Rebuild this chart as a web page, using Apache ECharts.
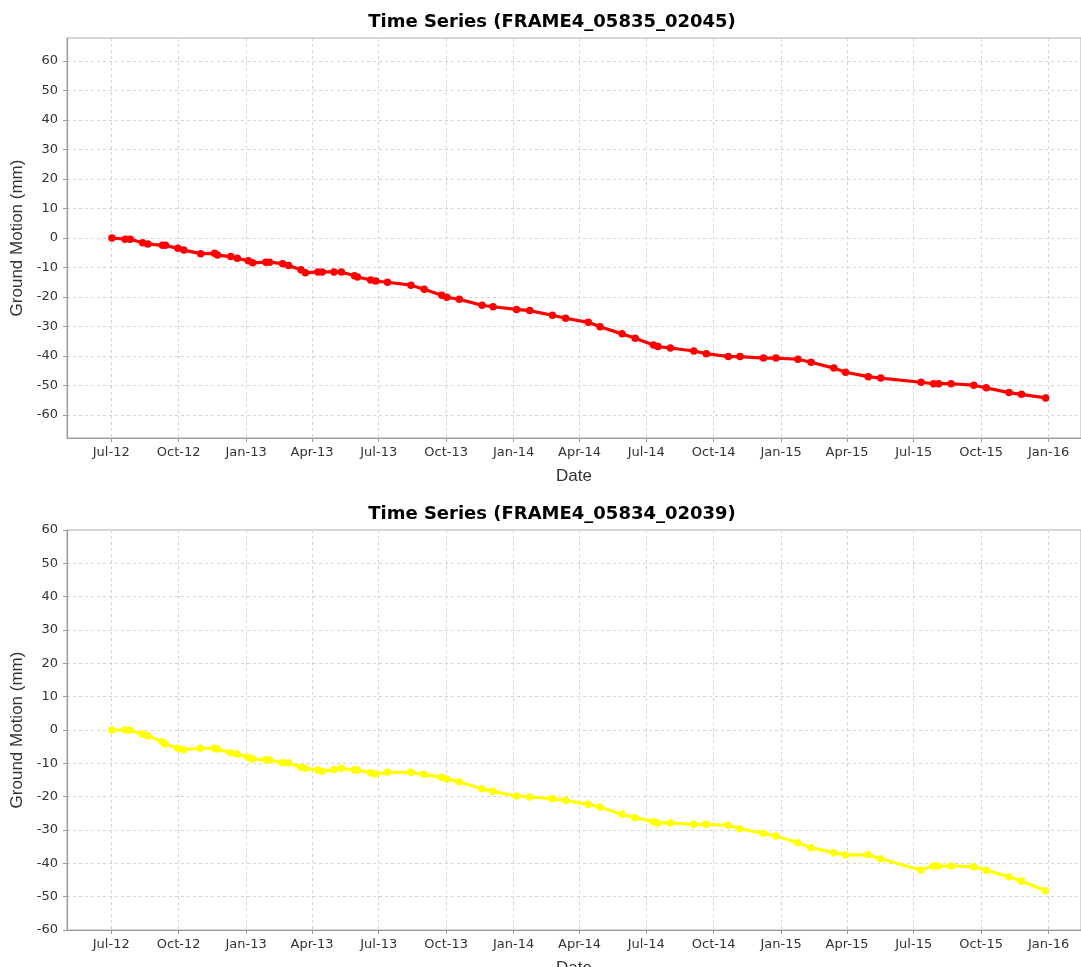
<!DOCTYPE html>
<html>
<head>
<meta charset="utf-8">
<script src="https://cdn.jsdelivr.net/npm/echarts@6/dist/echarts.min.js"></script>
<style>
  html, body { margin: 0; padding: 0; background: #ffffff; }
  #chart { width: 1081px; height: 967px; }
</style>
</head>
<body>
<div id="chart"></div>
<script>
// ---- data ----
const titles = ['Time Series (FRAME4_05835_02045)', 'Time Series (FRAME4_05834_02039)'];
const yAxisTitle = 'Ground Motion (mm)';
const xAxisTitle = 'Date';
const monthNames = ['Jan','Feb','Mar','Apr','May','Jun','Jul','Aug','Sep','Oct','Nov','Dec'];

const dates = [
  '2012-07-02','2012-07-20','2012-07-27','2012-08-13','2012-08-20','2012-09-09','2012-09-13','2012-09-30','2012-10-08','2012-10-31',
  '2012-11-19','2012-11-23','2012-12-11','2012-12-20','2013-01-04','2013-01-10','2013-01-28','2013-02-02','2013-02-20','2013-02-28',
  '2013-03-17','2013-03-23','2013-04-09','2013-04-15','2013-05-01','2013-05-11','2013-05-29','2013-06-02','2013-06-20','2013-06-27',
  '2013-07-13','2013-08-14','2013-09-01','2013-09-25','2013-10-02','2013-10-19','2013-11-19','2013-12-04','2014-01-05','2014-01-23',
  '2014-02-23','2014-03-13','2014-04-13','2014-04-29','2014-05-29','2014-06-16','2014-07-11','2014-07-17','2014-08-03','2014-09-04',
  '2014-09-21','2014-10-21','2014-11-06','2014-12-08','2014-12-25','2015-01-24','2015-02-11','2015-03-14','2015-03-30','2015-04-30',
  '2015-05-17','2015-07-11','2015-07-28','2015-08-04','2015-08-21','2015-09-21','2015-10-08','2015-11-08','2015-11-25','2015-12-28'
];

const motion05835 = [
  0, -0.4, -0.4, -1.6, -2.0, -2.5, -2.5, -3.5, -4.1, -5.3,
  -5.2, -5.8, -6.3, -6.9, -7.7, -8.4, -8.2, -8.2, -8.7, -9.3,
  -10.8, -11.8, -11.5, -11.5, -11.5, -11.5, -12.8, -13.2, -14.2, -14.6,
  -15.0, -16.0, -17.4, -19.4, -20.1, -20.8, -22.8, -23.3, -24.2, -24.6,
  -26.2, -27.2, -28.6, -30.1, -32.5, -34.0, -36.3, -36.8, -37.3, -38.3,
  -39.2, -40.2, -40.2, -40.7, -40.7, -41.1, -42.1, -44.1, -45.5, -47.0,
  -47.5, -48.9, -49.4, -49.4, -49.4, -49.9, -50.8, -52.4, -53.0, -54.2
];

const motion05834 = [
  0, 0, -0.1, -1.2, -1.7, -3.5, -4.2, -5.5, -5.9, -5.5,
  -5.5, -5.7, -6.8, -7.2, -8.2, -8.7, -8.9, -9.0, -9.8, -9.8,
  -11.2, -11.5, -12.0, -12.4, -11.9, -11.5, -12.0, -12.0, -12.8, -13.2,
  -12.7, -12.7, -13.3, -14.2, -14.7, -15.5, -17.6, -18.4, -19.8, -20.1,
  -20.6, -21.1, -22.3, -23.1, -25.3, -26.3, -27.5, -27.9, -27.9, -28.3,
  -28.3, -28.6, -29.6, -31.0, -31.8, -33.8, -35.3, -36.8, -37.5, -37.4,
  -38.6, -42.0, -40.8, -40.8, -40.8, -41.0, -42.1, -44.0, -45.3, -48.2
];

// ---- build chart ----
function toTs(s) {
  const p = s.split('-').map(Number);
  return Date.UTC(p[0], p[1] - 1, p[2]);
}
function pairs(vals) {
  return dates.map((d, i) => [toTs(d), vals[i]]);
}

const xMin = Date.UTC(2012, 4, 1, 16);
const xMax = Date.UTC(2016, 1, 14, 5);

const labelFont = 'DejaVu Sans';
const nameFont = 'Liberation Sans';
const gridLine = { show: true, lineStyle: { color: '#d4d4d4', type: [3, 3], width: 1 } };
const axisLineStyle = { show: true, onZero: false, lineStyle: { color: '#9a9a9a', width: 1.2 } };
const tickStyle = { show: true, length: 4, inside: false, lineStyle: { color: '#9a9a9a' } };

function xLabel(v) {
  const d = new Date(v);
  if (d.getUTCDate() !== 1 || d.getUTCHours() !== 0 || d.getUTCMinutes() !== 0) return '';
  return monthNames[d.getUTCMonth()] + '-' + String(d.getUTCFullYear()).slice(2);
}

function makeX(gridIndex) {
  return {
    type: 'time',
    gridIndex: gridIndex,
    min: xMin,
    max: xMax,
    splitNumber: 14,
    name: xAxisTitle,
    nameLocation: 'middle',
    nameGap: 30,
    nameTextStyle: { fontFamily: nameFont, fontSize: 17, color: '#333' },
    axisLine: axisLineStyle,
    axisTick: tickStyle,
    splitLine: gridLine,
    axisLabel: {
      formatter: xLabel,
      fontFamily: labelFont,
      fontSize: 13,
      color: '#333',
      margin: 8,
      interval: 0,
      hideOverlap: false
    }
  };
}

function makeY(gridIndex, lim) {
  return {
    type: 'value',
    gridIndex: gridIndex,
    min: -lim,
    max: lim,
    splitNumber: 14,
    minInterval: 10,
    maxInterval: 10,
    name: yAxisTitle,
    nameLocation: 'middle',
    nameGap: 38,
    nameTextStyle: { fontFamily: nameFont, fontSize: 17, color: '#333' },
    axisLine: axisLineStyle,
    axisTick: tickStyle,
    splitLine: gridLine,
    axisLabel: {
      fontFamily: labelFont,
      fontSize: 13,
      color: '#333',
      margin: 9,
      showMinLabel: lim % 10 === 0,
      showMaxLabel: lim % 10 === 0,
      formatter: function (v) { return (Math.abs(v % 10) < 1e-6) ? String(Math.round(v)) : ''; }
    }
  };
}

function makeSeries(idx, vals, color) {
  return {
    type: 'line',
    xAxisIndex: idx,
    yAxisIndex: idx,
    data: pairs(vals),
    symbol: 'circle',
    symbolSize: 7.5,
    showSymbol: true,
    lineStyle: { color: color, width: 3.2 },
    itemStyle: { color: color },
    animation: false,
    z: 5
  };
}

const chart = echarts.init(document.getElementById('chart'), null, { renderer: 'canvas' });
chart.setOption({
  useUTC: true,
  animation: false,
  backgroundColor: '#ffffff',
  title: [
    { text: titles[0], left: 547, top: 8, textAlign: 'center',
      textStyle: { fontFamily: 'DejaVu Sans', fontWeight: 'bold', fontSize: 18, color: '#000' } },
    { text: titles[1], left: 547, top: 500, textAlign: 'center',
      textStyle: { fontFamily: 'DejaVu Sans', fontWeight: 'bold', fontSize: 18, color: '#000' } }
  ],
  grid: [
    { left: 67, right: 0, top: 38, height: 400, show: true, borderColor: '#b0b0b0', borderWidth: 1,
      backgroundColor: 'transparent', outerBoundsMode: 'none', containLabel: false },
    { left: 67, right: 0, top: 530, height: 400, show: true, borderColor: '#b0b0b0', borderWidth: 1,
      backgroundColor: 'transparent', outerBoundsMode: 'none', containLabel: false }
  ],
  xAxis: [makeX(0), makeX(1)],
  yAxis: [makeY(0, 67.8), makeY(1, 60)],
  series: [
    makeSeries(0, motion05835, '#ff0000'),
    makeSeries(1, motion05834, '#ffff00')
  ]
});
</script>
</body>
</html>
